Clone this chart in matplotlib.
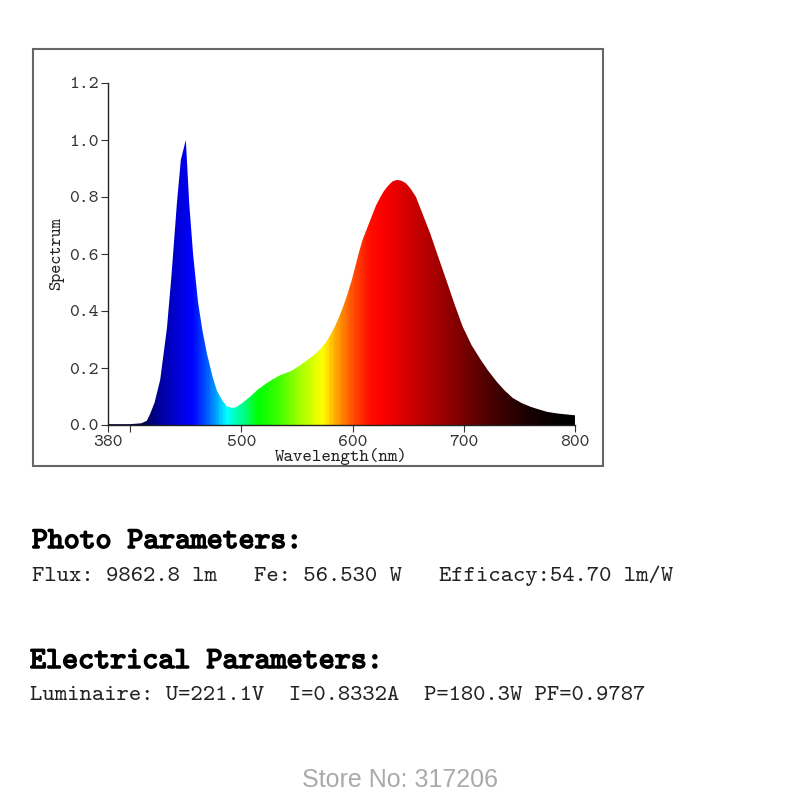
import numpy as np
import matplotlib
matplotlib.use("Agg")
import matplotlib.pyplot as plt
from matplotlib.colors import LinearSegmentedColormap, Normalize
from matplotlib.patches import Rectangle
import matplotlib.patheffects as pe

# spectrum
wl = [380, 400, 410, 415, 418, 422, 427, 433, 437, 442, 445.5, 450, 453, 456.5, 461, 465,
      469, 474, 478, 483, 487, 491.5, 495, 500, 508, 515, 522, 528, 535, 545, 553, 560,
      565, 570, 576, 580, 584, 588, 591, 595, 599, 602, 606, 609, 613, 617, 621, 625, 628,
      632, 636, 640, 644, 648, 652, 657, 662, 666, 670, 677,
      685, 692, 699, 707, 715, 722, 730, 737, 744, 752, 760, 768, 775, 785, 800]
spec = [0.003, 0.003, 0.006, 0.015, 0.04, 0.08, 0.16, 0.34, 0.52, 0.78, 0.93, 1.00, 0.78, 0.60, 0.43, 0.33,
        0.25, 0.17, 0.12, 0.085, 0.065, 0.06, 0.062, 0.075, 0.10, 0.125, 0.145, 0.16, 0.175, 0.19, 0.21, 0.23,
        0.245, 0.262, 0.29, 0.315, 0.345, 0.38, 0.41, 0.455, 0.505, 0.55, 0.61, 0.65, 0.69, 0.73, 0.77, 0.80, 0.82,
        0.84, 0.855, 0.86, 0.857, 0.848, 0.83, 0.80, 0.75, 0.71, 0.67, 0.59,
        0.50, 0.42, 0.345, 0.28, 0.23, 0.19, 0.15, 0.12, 0.095, 0.077, 0.064, 0.054, 0.046, 0.04, 0.034]

xticks = [380, 400, 500, 600, 700, 800]
xticklabels = ["380", "", "500", "600", "700", "800"]
yticks = [0.0, 0.2, 0.4, 0.6, 0.8, 1.0, 1.2]

photo_title = "Photo Parameters:"
photo_line = "Flux: 9862.8 lm   Fe: 56.530 W   Efficacy:54.70 lm/W"
elec_title = "Electrical Parameters:"
elec_line = "Luminaire: U=221.1V  I=0.8332A  P=180.3W PF=0.9787"
store = "Store No: 317206"

# wavelength -> colour stops for the fill
stop_wl = [380, 415, 425, 440, 455, 465, 475, 486, 500, 515, 530, 555, 573, 586, 600,
           615, 626, 645, 670, 700, 730, 760, 790, 800]
stop_col = ["#000033", "#000060", "#00009a", "#0000d0", "#0000ff", "#0040ff", "#0090ff",
            "#00ffff", "#00ff90", "#00ff00", "#30ff00", "#b0ff00", "#ffff00", "#ffa000",
            "#ff5000", "#ff1000", "#ff0000", "#dd0000", "#b00000", "#780000", "#400000",
            "#180000", "#000000", "#000000"]

mono = "cmtt10"

fig = plt.figure(figsize=(8, 8), dpi=100)
fig.patch.set_facecolor("white")

# outer frame around the chart
fig.patches.append(Rectangle((33/800, 1-466/800), 570/800, 417/800, transform=fig.transFigure,
                             fill=False, edgecolor="#666666", lw=1.5))

ax = fig.add_axes([108/800, 1-425/800, 467/800, 342/800])
poly = ax.fill_between(wl, spec, 0, color="none", lw=0)
cmap = LinearSegmentedColormap.from_list(
    "spec", [((w-380)/420, c) for w, c in zip(stop_wl, stop_col)])
grad = np.linspace(380, 800, 840)[None, :]
im = ax.imshow(grad, cmap=cmap, norm=Normalize(380, 800), aspect="auto",
               extent=(380, 800, 0, 1.2), origin="lower", interpolation="nearest")
im.set_clip_path(poly.get_paths()[0], transform=ax.transData)

ax.set_xlim(380, 800)
ax.set_ylim(0, 1.2)
ax.spines["top"].set_visible(False)
ax.spines["right"].set_visible(False)
for s in ["left", "bottom"]:
    ax.spines[s].set_linewidth(1.0)
    ax.spines[s].set_color("#222222")
ax.set_xticks(xticks)
ax.set_xticklabels(xticklabels)
ax.set_yticks(yticks)
ax.set_yticklabels(["%.1f" % v for v in yticks])
ax.tick_params(direction="out", length=5, width=0.8, colors="#333333", labelsize=13.5, pad=2)
for lab in ax.get_xticklabels() + ax.get_yticklabels():
    lab.set_fontfamily(mono)
ax.set_xlabel("Wavelength(nm)", fontfamily=mono, fontsize=13, labelpad=-1, color="#222222")
ax.set_ylabel("Spectrum", fontfamily=mono, fontsize=12.5, labelpad=3, color="#222222")

bold = [pe.withStroke(linewidth=1.1, foreground="black")]
fig.text(32/800, 1-548/800, photo_title, fontfamily=mono, fontsize=21.8, path_effects=bold)
fig.text(32/800, 1-581/800, photo_line, fontfamily=mono, fontsize=16.9, color="#222222")
fig.text(30/800, 1-668/800, elec_title, fontfamily=mono, fontsize=22, path_effects=bold)
fig.text(30/800, 1-700/800, elec_line, fontfamily=mono, fontsize=16.9, color="#222222")
fig.text(400/800, 1-780/800, store, fontfamily="Liberation Sans", fontsize=18,
         color="#aaaaaa", ha="center", va="center")

fig.savefig("out.png", dpi=100)
